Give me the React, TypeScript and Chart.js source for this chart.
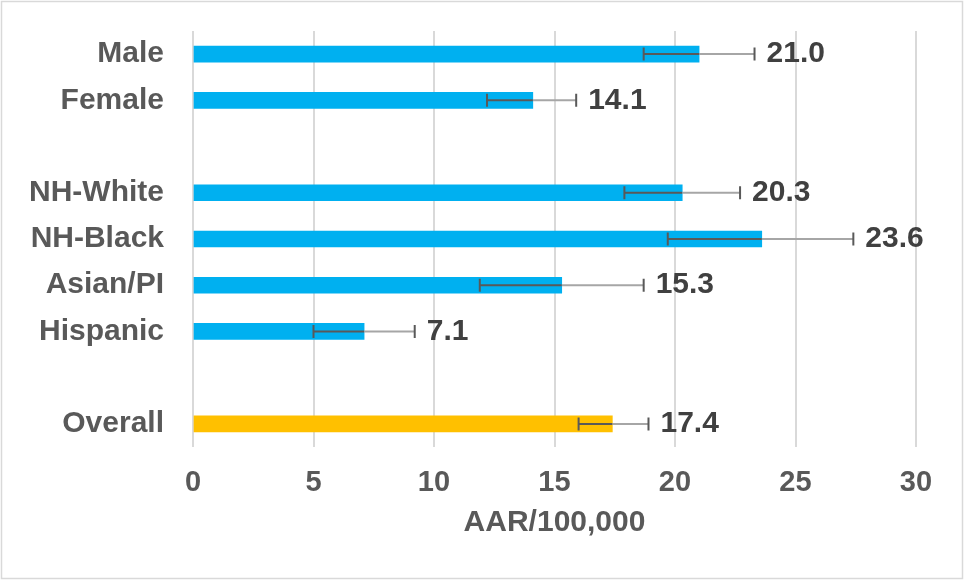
import React, { useEffect, useRef } from "react";
import { Chart, registerables } from "chart.js";

Chart.register(...registerables);

const categories = ["Male", "Female", "", "NH-White", "NH-Black", "Asian/PI", "Hispanic", "", "Overall"];
const rates: (number | null)[] = [21.0, 14.1, null, 20.3, 23.6, 15.3, 7.1, null, 17.4];
const ciLow: (number | null)[] = [18.7, 12.2, null, 17.9, 19.7, 11.9, 5.0, null, 16.0];
const ciHigh: (number | null)[] = [23.3, 15.9, null, 22.7, 27.4, 18.7, 9.2, null, 18.9];
const groupKinds = ["sub", "sub", "", "sub", "sub", "sub", "sub", "", "overall"];
const xTicks = [0, 5, 10, 15, 20, 25, 30];
const xTitle = "AAR/100,000";

const BLUE = "#00b0f0";
const ORANGE = "#ffc000";
const FONT = "'Liberation Sans', Arial, sans-serif";

const errorBarPlugin = {
  id: "errorBars",
  afterDatasetsDraw(chart: any) {
    const ctx = chart.ctx;
    const xs = chart.scales.x;
    const ys = chart.scales.y;
    ctx.save();
    rates.forEach((v, i) => {
      if (v == null) return;
      const lo = ciLow[i] as number;
      const hi = ciHigh[i] as number;
      const y = ys.getPixelForValue(i);
      const xv = xs.getPixelForValue(v);
      const xl = xs.getPixelForValue(lo);
      const xh = xs.getPixelForValue(hi);
      // light portion
      ctx.strokeStyle = "#a6a6a6";
      ctx.lineWidth = 2;
      ctx.beginPath();
      ctx.moveTo(xv, y);
      ctx.lineTo(xh, y);
      ctx.stroke();
      // dark portion
      ctx.strokeStyle = "#595959";
      ctx.beginPath();
      ctx.moveTo(xl, y);
      ctx.lineTo(xv, y);
      ctx.stroke();
      // caps
      ctx.beginPath();
      ctx.moveTo(xl, y - 6.5);
      ctx.lineTo(xl, y + 6.5);
      ctx.moveTo(xh, y - 6.5);
      ctx.lineTo(xh, y + 6.5);
      ctx.stroke();
      // label
      ctx.fillStyle = "#404040";
      ctx.font = `bold 30px ${FONT}`;
      ctx.textAlign = "left";
      ctx.textBaseline = "middle";
      ctx.fillText(v.toFixed(1), xh + 12, y);
    });
    ctx.restore();
  },
};

const borderPlugin = {
  id: "outerBorder",
  afterDraw(chart: any) {
    const ctx = chart.ctx;
    ctx.save();
    ctx.strokeStyle = "#d9d9d9";
    ctx.lineWidth = 1.5;
    ctx.strokeRect(1.5, 1.5, 961, 577);
    ctx.restore();
  },
};

export default function App() {
  const ref = useRef<HTMLCanvasElement>(null);
  useEffect(() => {
    if (!ref.current) return;
    const chart = new Chart(ref.current, {
      type: "bar",
      data: {
        labels: categories,
        datasets: [
          {
            data: rates as any,
            backgroundColor: groupKinds.map((k) => (k === "overall" ? ORANGE : BLUE)),
            borderWidth: 0,
            barThickness: 16,
          },
        ],
      },
      options: {
        indexAxis: "y",
        animation: false,
        responsive: false,
        devicePixelRatio: 1,
        layout: { padding: { top: 31, right: 48, left: 0, bottom: 0 } },
        plugins: { legend: { display: false }, tooltip: { enabled: false } },
        scales: {
          x: {
            min: 0,
            max: 30,
            afterBuildTicks: (s: any) => {
              s.ticks = xTicks.map((v) => ({ value: v }));
            },
            afterFit: (s: any) => {
              s.height = 133;
              s.paddingLeft = 0;
              s.paddingRight = 0;
            },
            grid: { color: "#d9d9d9", lineWidth: 2, drawTicks: false },
            border: { display: false },
            ticks: {
              color: "#595959",
              font: { family: FONT, size: 29, weight: "bold" },
              padding: 19,
              maxRotation: 0,
            },
            title: {
              display: true,
              text: xTitle,
              color: "#595959",
              font: { family: FONT, size: 30, weight: "bold" },
              padding: { top: 0, bottom: 39 },
            },
          },
          y: {
            afterFit: (s: any) => {
              s.width = 193;
              s.paddingTop = 0;
              s.paddingBottom = 0;
            },
            grid: { display: false, drawTicks: false },
            border: { display: false },
            ticks: {
              color: "#595959",
              font: { family: FONT, size: 30, weight: "bold" },
              padding: 29,
            },
          },
        },
      },
      plugins: [errorBarPlugin, borderPlugin],
    } as any);
    return () => chart.destroy();
  }, []);
  return (
    <div style={{ position: "fixed", left: 0, top: 0, width: 964, height: 580, background: "#fff" }}>
      <canvas ref={ref} width={964} height={580} style={{ display: "block" }} />
    </div>
  );
}
